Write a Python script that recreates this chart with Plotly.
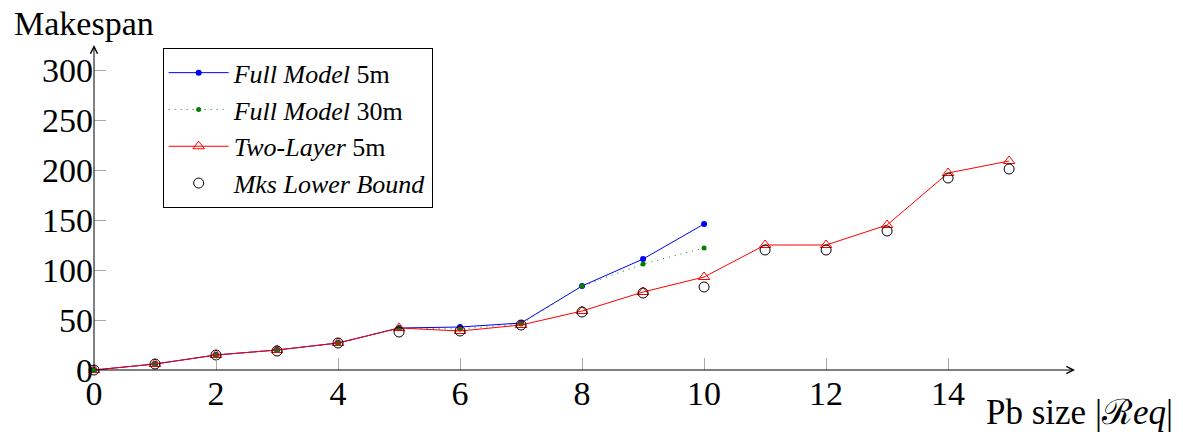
import plotly.graph_objects as go

# data
x_full = [0, 1, 2, 3, 4, 5, 6, 7, 8, 9, 10]
full_5m = [0, 6, 15, 20, 27, 42, 43, 47, 84, 111, 146]
full_30m = [0, 6, 15, 20, 27, 42, 41, 46, 84, 106, 122]

x_two = [0, 1, 2, 3, 4, 5, 6, 7, 8, 9, 10, 11, 12, 13, 14, 15]
two_layer_5m = [0, 6, 15, 20, 27, 42, 39, 45, 59, 78, 93, 125, 125, 145, 197, 209]
lower_bound = [0, 6, 15, 19, 27, 38, 39, 45, 58, 77, 83, 120, 120, 139, 192, 201]

x_ticks = [0, 2, 4, 6, 8, 10, 12, 14]
y_ticks = [0, 50, 100, 150, 200, 250, 300]

X_MAX = 16.08
Y_MAX = 325
FONT = "Liberation Serif"

fig = go.Figure()

fig.add_trace(go.Scatter(
    x=x_full, y=full_5m, mode="lines+markers", name="<i>Full Model</i> 5m",
    line=dict(color="#0000ff", width=1), marker=dict(color="#0000ff", size=6),
    cliponaxis=False,
))
fig.add_trace(go.Scatter(
    x=x_full, y=full_30m, mode="lines+markers", name="<i>Full Model</i> 30m",
    line=dict(color="#007f00", width=1, dash="1px,5px"), marker=dict(color="#007f00", size=5),
    cliponaxis=False,
))
fig.add_trace(go.Scatter(
    x=x_two, y=two_layer_5m, mode="lines+markers", name="<i>Two-Layer</i> 5m",
    line=dict(color="#ff0000", width=1),
    marker=dict(symbol="triangle-up-open", color="#ff0000", size=10, line=dict(width=1)),
    cliponaxis=False,
))
fig.add_trace(go.Scatter(
    x=x_two, y=lower_bound, mode="markers", name="<i>Mks Lower Bound</i>",
    marker=dict(symbol="circle-open", color="black", size=10, line=dict(width=1)),
    cliponaxis=False,
))

# axis arrows
fig.add_annotation(x=X_MAX, y=0, ax=0, ay=0, xref="x", yref="y", axref="x", ayref="y",
                   showarrow=True, arrowhead=5, arrowsize=1.4, arrowwidth=1, arrowcolor="black", text="")
fig.add_annotation(x=0, y=Y_MAX, ax=0, ay=0, xref="x", yref="y", axref="x", ayref="y",
                   showarrow=True, arrowhead=5, arrowsize=1.4, arrowwidth=1, arrowcolor="black", text="")

fig.add_annotation(x=-0.01, y=1.065, xref="paper", yref="paper", text="Makespan", showarrow=False,
                   xanchor="center", yanchor="middle",
                   font=dict(family=FONT, size=34, color="black"))
fig.add_annotation(x=1.102, y=0, xref="paper", yref="paper", text="Pb size |ℛ<i>eq</i>|", showarrow=False,
                   xanchor="right", yanchor="middle", yshift=-42,
                   font=dict(family=FONT, size=35, color="black"))

fig.update_layout(
    width=1175, height=424,
    margin=dict(l=86, r=108, t=37, b=62, autoexpand=False),
    plot_bgcolor="white", paper_bgcolor="white",
    showlegend=True,
    legend=dict(
        x=0.07, y=0.99, xanchor="left", yanchor="top",
        bordercolor="black", borderwidth=1, bgcolor="white",
        font=dict(family=FONT, size=26, color="black"),
        itemwidth=60, tracegroupgap=0,
    ),
    xaxis=dict(
        range=[0, X_MAX], tickvals=x_ticks, ticks="inside", ticklen=12,
        tickcolor="#aaaaaa", tickwidth=1, showgrid=False, zeroline=False, showline=False,
        tickfont=dict(family=FONT, size=34, color="black"), automargin=False,
    ),
    yaxis=dict(
        range=[0, Y_MAX], tickvals=y_ticks, ticks="inside", ticklen=12,
        tickcolor="#aaaaaa", tickwidth=1, showgrid=False, zeroline=False, showline=False,
        tickfont=dict(family=FONT, size=34, color="black"), automargin=False,
    ),
)

fig.write_html("out.html")
